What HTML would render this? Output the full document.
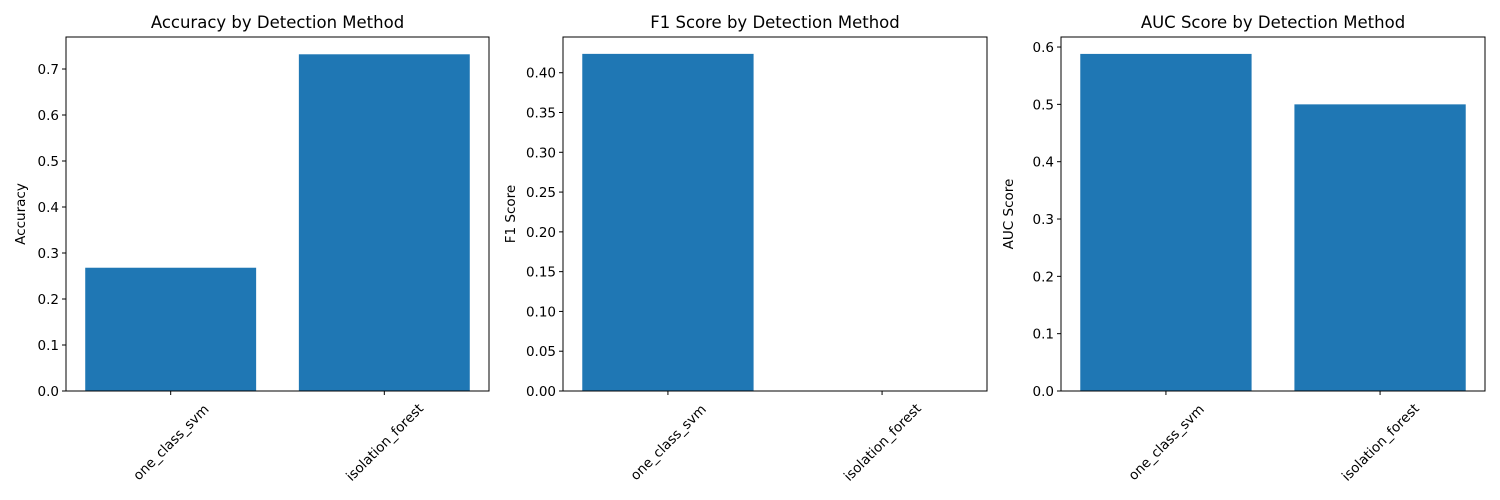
<!DOCTYPE html>
<html><head><meta charset="utf-8"><style>
body{margin:0;background:#fff}
svg{display:block;font-family:"DejaVu Sans","Liberation Sans",sans-serif}
</style></head><body>
<svg id="chart" width="1500" height="500" viewBox="0 0 1500 500"></svg>
<script>
const categories = ["one_class_svm", "isolation_forest"];
const accuracyValues = [0.268, 0.732];
const f1Values = [0.4237, 0.0];
const aucValues = [0.588, 0.5];
const accuracyTicks = [0.0, 0.1, 0.2, 0.3, 0.4, 0.5, 0.6, 0.7];
const f1Ticks = [0.0, 0.05, 0.10, 0.15, 0.20, 0.25, 0.30, 0.35, 0.40];
const aucTicks = [0.0, 0.1, 0.2, 0.3, 0.4, 0.5, 0.6];

const NS = "http://www.w3.org/2000/svg";
const svgEl = document.getElementById("chart");
function mk(tag, attrs, parent) {
  const e = document.createElementNS(NS, tag);
  for (const k in attrs) e.setAttribute(k, attrs[k]);
  (parent || svgEl).appendChild(e);
  return e;
}
const panels = [
  {key:"accuracy", left:66, right:489, title:"Accuracy by Detection Method", ylabel:"Accuracy", vals:accuracyValues, ticks:accuracyTicks, ymax:0.7696, dec:1},
  {key:"f1", left:563, right:987, title:"F1 Score by Detection Method", ylabel:"F1 Score", vals:f1Values, ticks:f1Ticks, ymax:0.4449, dec:2},
  {key:"auc", left:1061, right:1485, title:"AUC Score by Detection Method", ylabel:"AUC Score", vals:aucValues, ticks:aucTicks, ymax:0.6175, dec:1}
];
const axTop = 37, axBottom = 391;
panels.forEach(p => {
  const g = mk("g", {});
  
  
  const w = p.right - p.left;
  const xmin = -0.49, xmax = 1.49;
  const xs = v => p.left + (v - xmin) / (xmax - xmin) * w;
  const ys = v => axBottom - v / p.ymax * (axBottom - axTop);
  p.vals.forEach((v, i) => {
    const r = mk("rect", {x: xs(i - 0.4), y: ys(v), width: xs(i + 0.4) - xs(i - 0.4), height: axBottom - ys(v), fill: "#1f77b4"}, g);
    
    
  });
  const fr = mk("rect", {x: p.left, y: axTop, width: w, height: axBottom - axTop, fill: "none", stroke: "#000", "stroke-width": 1}, g);
  
  
  p.ticks.forEach(t => {
    const y = ys(t);
    mk("line", {x1: p.left - 4, x2: p.left, y1: y, y2: y, stroke: "#000"}, g);
    const tx = mk("text", {x: p.left - 7, y: y + 5, "text-anchor": "end", "font-size": 13.5, fill: "#000"}, g);
    tx.textContent = t.toFixed(p.dec);
    
    
  });
  categories.forEach((c, i) => {
    const x = xs(i);
    mk("line", {x1: x, x2: x, y1: axBottom, y2: axBottom + 4, stroke: "#000"}, g);
    const tx = mk("text", {x: x, y: 442 + 5, "text-anchor": "middle", "font-size": 13.5, fill: "#000", transform: `rotate(-45 ${x} 442)`}, g);
    tx.textContent = c;
    
    
  });
  const ti = mk("text", {x: p.left + w / 2, y: 28, "text-anchor": "middle", "font-size": 16.5, fill: "#000"}, g);
  ti.textContent = p.title;
  
  
  const cy = (axTop + axBottom) / 2;
  const lx = p.key === "accuracy" ? 25 : p.left - 48;
  const yt = mk("text", {x: lx, y: cy, "text-anchor": "middle", "font-size": 13.5, fill: "#000", transform: `rotate(-90 ${lx} ${cy})`}, g);
  yt.textContent = p.ylabel;
  
  
});
</script>
</body></html>
